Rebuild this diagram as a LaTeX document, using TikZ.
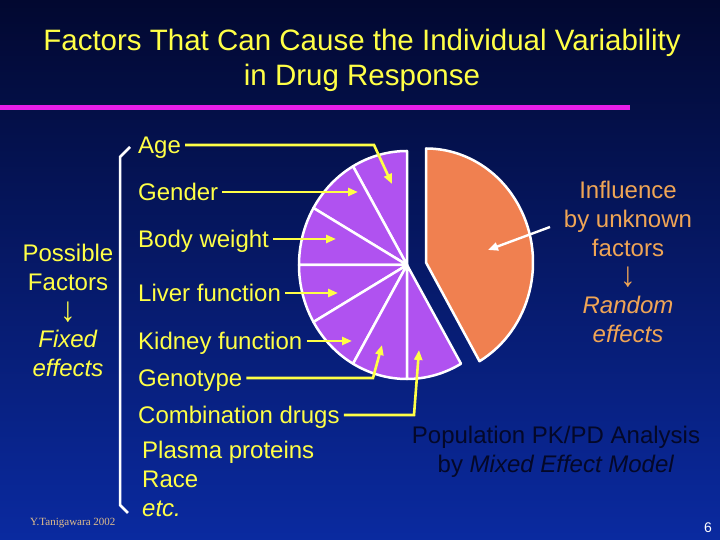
\documentclass[tikz,border=0pt]{standalone}
\usepackage{graphicx}
\usepackage{fontspec}
\setmainfont{Liberation Sans}
\newfontfamily\creditfont{Liberation Serif}
\usetikzlibrary{arrows.meta,calc}
\definecolor{bgtop}{RGB}{2,8,48}
\definecolor{bgbot}{RGB}{10,42,160}
\definecolor{ylw}{RGB}{255,255,70}
\definecolor{piepurple}{RGB}{176,82,240}
\definecolor{pieorange}{RGB}{240,128,80}
\definecolor{orangetxt}{RGB}{240,165,85}
\definecolor{navytxt}{RGB}{4,8,40}
\definecolor{magline}{RGB}{232,30,232}
\definecolor{credit}{RGB}{225,190,140}
\newcommand{\bigdown}{\raisebox{-2pt}{\scalebox{1.3}[1.45]{↓}}}
\begin{document}
\begin{tikzpicture}[x=1pt,y=1pt,
  lbl/.style={text=ylw, font=\fontsize{24}{28.75}\selectfont, inner xsep=4pt, inner ysep=0pt,
    text height=17pt, text depth=0pt, anchor=west},
  block/.style={font=\fontsize{24}{28.75}\selectfont, inner sep=0pt, align=center},
  yarrow/.style={draw=ylw, line width=2.6pt, line join=miter, -{Triangle[length=10pt,width=8pt]}},
  warrow/.style={draw=white, line width=2.4pt, -{Triangle[length=10pt,width=8pt]}},
  slice/.style={fill=piepurple, draw=white, line width=2.5pt, line join=round},
  oslice/.style={fill=pieorange, draw=white, line width=2.5pt, line join=round},
]
\useasboundingbox (0,0) rectangle (720,540);
\shade[top color=bgtop, bottom color=bgbot] (0,0) rectangle (720,540);

% title
\node[block, anchor=north, text=ylw, font=\fontsize{29.5}{35}\selectfont] (title) at (362,511)
  {Factors That Can Cause the Individual Variability\\in Drug Response};
\draw[magline, line width=5pt] (0,432) -- (630,432);

% pie
\coordinate (C) at (407,275);
\foreach \a/\b in {90/120,120/150,150/180,180/210,210/240,240/270,270/300}
  \filldraw[slice] (C) -- ++(\a:108pt and 114pt) arc[start angle=\a, end angle=\b, x radius=108pt, y radius=114pt] -- cycle;
\coordinate (O) at (426,277.5);
\filldraw[oslice] (O) -- ++(-60:107pt and 114pt) arc[start angle=-60, end angle=90, x radius=107pt, y radius=114pt] -- cycle;

% bracket
\draw[white, line width=2.5pt] (130,393) -- (120,383) -- (120,35) -- (128,27);

% labels
\node[lbl] (age) at (134,395) {Age};
\node[lbl] (gender) at (134,348) {Gender};
\node[lbl] (bw) at (134,301) {Body weight};
\node[lbl] (liver) at (134,247) {Liver function};
\node[lbl] (kidney) at (134,199) {Kidney function};
\node[lbl] (geno) at (134,162) {Genotype};
\node[lbl] (comb) at (134,125) {Combination drugs};
\node[block, align=left, anchor=north west, text=ylw, font=\fontsize{24}{29}\selectfont] (others) at (142,99)
  {Plasma proteins\\Race\\\textit{etc.}};

% arrow tips
\coordinate (ageK) at (374,395);
\coordinate (ageT) at (392,356);
\coordinate (genderT) at (358,348);
\coordinate (bwT) at (336,301);
\coordinate (liverT) at (338,247);
\coordinate (kidneyT) at (352,199);
\coordinate (genoK) at (373,162);
\coordinate (genoT) at (382,195);
\coordinate (combK) at (414,125);
\coordinate (combT) at (419,190);

\draw[yarrow] (age.east) -- (ageK) -- (ageT);
\draw[yarrow] (gender.east) -- (genderT);
\draw[yarrow] (bw.east) -- (bwT);
\draw[yarrow] (liver.east) -- (liverT);
\draw[yarrow] (kidney.east) -- (kidneyT);
\draw[yarrow] (geno.east) -- (genoK) -- (genoT);
\draw[yarrow] (comb.east) -- (combK) -- (combT);

% left block
\node[block, anchor=north, text=ylw] (fixed) at (68,296)
  {Possible\\Factors\\\bigdown\\\textit{Fixed}\\\textit{effects}};

% right block
\node[block, anchor=north, text=orangetxt] (infl) at (628,359)
  {Influence\\by unknown\\factors\\\bigdown\\\textit{Random}\\\textit{effects}};
\coordinate (wS) at (550,313);
\coordinate (wT) at (488,290);
\draw[warrow] (wS) -- (wT);

% population
\node[block, anchor=north, text=navytxt, font=\fontsize{24}{29}\selectfont] (pop) at (556,114)
  {Population PK/PD Analysis\\by \textit{Mixed Effect Model}};

% credit and page
\node[anchor=west, inner sep=0pt, text=credit, font=\creditfont\fontsize{11}{13}\selectfont] (cred) at (30,17) {Y.Tanigawara 2002};
\node[inner sep=0pt, text=white, font=\fontsize{14}{16}\selectfont] (pg) at (708,12) {6};
\end{tikzpicture}
\end{document}
